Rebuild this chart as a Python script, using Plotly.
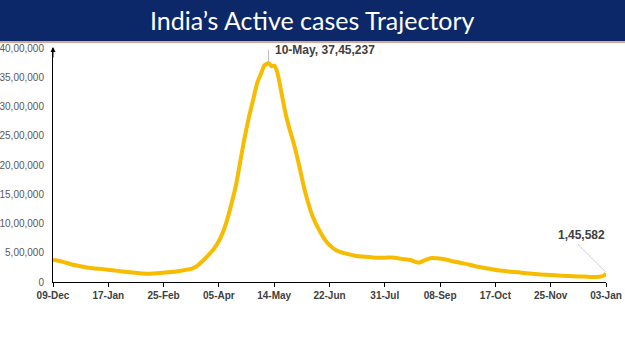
import pandas as pd
import plotly.graph_objects as go

# ---- data (active cases) ----
dates = [
    "2020-12-09", "2020-12-16", "2020-12-23", "2020-12-30", "2021-01-06", "2021-01-13",
    "2021-01-20", "2021-01-27", "2021-02-03", "2021-02-10", "2021-02-15", "2021-02-21",
    "2021-02-28", "2021-03-07", "2021-03-12", "2021-03-17", "2021-03-21", "2021-03-25",
    "2021-03-29", "2021-04-01", "2021-04-05", "2021-04-08", "2021-04-11", "2021-04-14",
    "2021-04-17", "2021-04-20", "2021-04-23", "2021-04-26", "2021-04-29", "2021-05-02",
    "2021-05-05", "2021-05-07", "2021-05-09", "2021-05-10", "2021-05-12", "2021-05-14",
    "2021-05-16", "2021-05-19", "2021-05-22", "2021-05-25", "2021-05-28", "2021-06-01",
    "2021-06-04", "2021-06-07", "2021-06-10", "2021-06-14", "2021-06-18", "2021-06-22",
    "2021-06-27", "2021-07-03", "2021-07-10", "2021-07-17", "2021-07-24", "2021-07-31",
    "2021-08-05", "2021-08-12", "2021-08-18", "2021-08-24", "2021-08-28", "2021-09-02",
    "2021-09-06", "2021-09-11", "2021-09-16", "2021-09-22", "2021-09-28", "2021-10-05",
    "2021-10-12", "2021-10-19", "2021-10-26", "2021-11-02", "2021-11-10", "2021-11-18",
    "2021-11-25", "2021-12-03", "2021-12-11", "2021-12-19", "2021-12-27", "2021-12-31",
    "2022-01-02", "2022-01-03",
]
active_lakh = [
    3.80, 3.45, 2.95, 2.62, 2.35, 2.20,
    2.00, 1.80, 1.62, 1.45, 1.40, 1.48,
    1.65, 1.85, 2.05, 2.30, 2.80, 3.70,
    4.70, 5.50, 7.00, 8.60, 10.8, 13.5,
    16.5, 20.5, 24.5, 28.0, 31.0, 34.0,
    35.8, 37.0, 37.3, 37.45237, 36.9, 37.0,
    36.0, 32.5, 28.8, 26.0, 23.5, 19.5,
    16.2, 13.5, 11.3, 9.2, 7.5, 6.3,
    5.4, 4.9, 4.5, 4.3, 4.15, 4.15,
    4.2, 3.95, 3.75, 3.3, 3.7, 4.1,
    4.05, 3.9, 3.6, 3.3, 3.0, 2.6,
    2.3, 2.0, 1.8, 1.65, 1.45, 1.3,
    1.2, 1.05, 1.0, 0.92, 0.85, 0.95,
    1.2, 1.45582,
]
active = [round(v * 100000) for v in active_lakh]

x_ticks = ["2020-12-09", "2021-01-17", "2021-02-25", "2021-04-05", "2021-05-14", "2021-06-22",
           "2021-07-31", "2021-09-08", "2021-10-17", "2021-11-25", "2022-01-03"]
x_ticklabels = ["09-Dec", "17-Jan", "25-Feb", "05-Apr", "14-May", "22-Jun",
                "31-Jul", "08-Sep", "17-Oct", "25-Nov", "03-Jan"]
y_ticks = [0, 500000, 1000000, 1500000, 2000000, 2500000, 3000000, 3500000, 4000000]
y_ticklabels = ["0", "5,00,000", "10,00,000", "15,00,000", "20,00,000", "25,00,000",
                "30,00,000", "35,00,000", "40,00,000"]

title = "India\u2019s Active cases Trajectory"
peak_date, peak_label = "2021-05-10", "10-May, 37,45,237"
last_date, last_label = "2022-01-03", "1,45,582"
last_label_date, last_label_val = "2021-12-17", 650000

# ---- figure ----
W, H = 625, 351
ml, mr, mt, mb = 53, 19, 48, 69
plot_w = W - ml - mr
plot_h = H - mt - mb

def py(pix):  # pixel from top -> paper y
    return (H - mb - pix) / plot_h

def px(pix):  # pixel from left -> paper x
    return (pix - ml) / plot_w

fig = go.Figure()
fig.add_trace(go.Scatter(
    x=pd.to_datetime(dates), y=active, mode="lines",
    line=dict(color="#F7BB00", width=4, shape="spline", smoothing=0.6),
    hoverinfo="skip", showlegend=False,
))

peak_val = active[dates.index(peak_date)]
last_val = active[dates.index(last_date)]

shapes = [
    # title bar
    dict(type="rect", xref="paper", yref="paper", x0=px(-5), x1=px(W + 5),
         y0=py(41), y1=py(-5), fillcolor="#0C2868", line=dict(width=0), layer="above"),
    dict(type="line", xref="paper", yref="paper", x0=px(-5), x1=px(W + 5),
         y0=py(42), y1=py(42), line=dict(color="#C98A6E", width=1.5)),
    # leader lines
    dict(type="line", xref="x", yref="y", x0=peak_date, x1=peak_date,
         y0=peak_val + 30000, y1=3970000, line=dict(color="#BFBFBF", width=1)),
    dict(type="line", xref="x", yref="y", x0=last_date, x1="2021-12-14",
         y0=last_val + 20000, y1=last_label_val, line=dict(color="#D0D0D0", width=1)),
]

annotations = [
    dict(text=title, xref="paper", yref="paper", x=px(312), y=py(20.5), xanchor="center", yanchor="middle",
         showarrow=False, font=dict(family="Lato", size=25, color="white")),
    dict(text=f"<b>{peak_label}</b>", xref="x", yref="y", x=peak_date, y=3970000,
         xanchor="left", yanchor="middle", xshift=4, showarrow=False,
         font=dict(family="Liberation Sans", size=12, color="#404040")),
    dict(text=f"<b>{last_label}</b>", xref="x", yref="y", x=last_label_date, y=last_label_val,
         xanchor="center", yanchor="bottom", showarrow=False,
         font=dict(family="Liberation Sans", size=12, color="#404040")),
    # y-axis arrow head
    dict(text="", xref="paper", yref="paper", x=0, y=py(47), ax=0, ay=12, axref="pixel", ayref="pixel",
         showarrow=True, arrowhead=2, arrowsize=1, arrowwidth=1, arrowcolor="black"),
]

fig.update_layout(
    width=W, height=H, margin=dict(l=ml, r=mr, t=mt, b=mb, autoexpand=False),
    paper_bgcolor="white", plot_bgcolor="white",
    shapes=shapes, annotations=annotations,
    xaxis=dict(range=[pd.Timestamp("2020-12-09"), pd.Timestamp("2022-01-03")], automargin=False,
               tickvals=pd.to_datetime(x_ticks), ticktext=[f"<b>{t}</b>" for t in x_ticklabels],
               showgrid=False, zeroline=False, showline=True, linecolor="black", linewidth=1,
               ticks="outside", ticklen=4, tickcolor="black",
               tickfont=dict(family="Liberation Sans", size=10, color="#404040")),
    yaxis=dict(range=[0, 4000000], tickvals=y_ticks, ticktext=y_ticklabels, automargin=False,
               showgrid=False, zeroline=False, showline=True, linecolor="black", linewidth=1,
               ticks="outside", ticklen=6, tickcolor="rgba(0,0,0,0)",
               tickfont=dict(family="Liberation Sans", size=10, color="#595959")),
)

fig.write_html("out.html")
